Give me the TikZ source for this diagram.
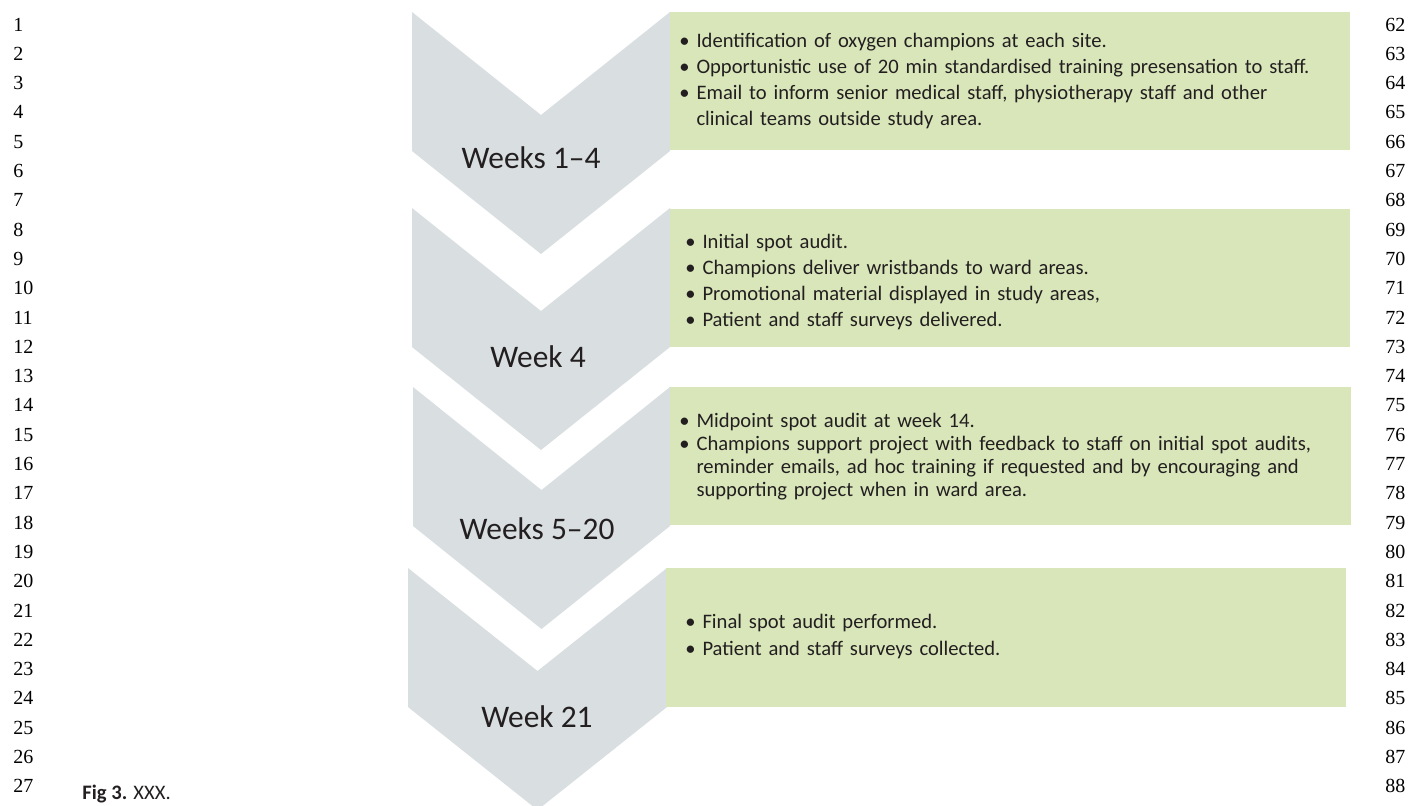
\documentclass[tikz,border=0pt]{standalone}
\usepackage{fontspec}
\setmainfont{Carlito}
\newfontfamily\numfont{Liberation Serif}

\definecolor{chevgray}{RGB}{217,222,224}
\definecolor{boxgreen}{RGB}{216,230,185}
\definecolor{txtgray}{RGB}{35,31,32}

\tikzset{
  chevron/.style={fill=chevgray},
  stepbox/.style={fill=boxgreen},
  weeklabel/.style={font=\fontsize{15.7}{18}\selectfont, text=txtgray, anchor=base, inner sep=0pt},
  bullets/.style={text=txtgray, text width=340pt, align=left, anchor=base west, inner sep=0pt},
  lineno/.style={font=\numfont\fontsize{10}{12}\selectfont, anchor=base west, inner sep=0pt}
}

\newcommand{\cont}{\hphantom{• }}

\begin{document}
\begin{tikzpicture}[x=0.5pt, y=-0.5pt]
        \useasboundingbox (0,0) rectangle (1424,805);

        % chevrons
        \foreach \t/\xl/\xr in {12/412/670, 208/412/670, 387/413/670, 568/408/667}
          \fill[chevron] (\xl,\t) -- ({(\xl+\xr)/2},{\t+103}) -- (\xr,\t) -- (\xr,{\t+139})
            -- ({(\xl+\xr)/2},{\t+242}) -- (\xl,{\t+139}) -- cycle;

        % green boxes
        \fill[stepbox] (670,12) rectangle (1350,150);
        \fill[stepbox] (670,209) rectangle (1350,347);
        \fill[stepbox] (670,387) rectangle (1351,525);
        \fill[stepbox] (666,568) rectangle (1346,707);

        \node[weeklabel] (wk1) at (531,168) {Weeks 1–4};
        \node[weeklabel] (wk2) at (538,367) {Week 4};
        \node[weeklabel] (wk3) at (537,539) {Weeks 5–20};
        \node[weeklabel] (wk4) at (537,727) {Week 21};

        \node[bullets, font=\fontsize{10.3}{13}\selectfont] (txt1) at (679,47) {%
          • Identification of oxygen champions at each site.\\
          • Opportunistic use of 20 min standardised training presensation to staff.\\
          • Email to inform senior medical staff, physiotherapy staff and other\\
          \cont clinical teams outside study area.};
        \node[bullets, font=\fontsize{10.3}{13}\selectfont] (txt2) at (685,248) {%
          • Initial spot audit.\\
          • Champions deliver wristbands to ward areas.\\
          • Promotional material displayed in study areas,\\
          • Patient and staff surveys delivered.};
        \node[bullets, font=\fontsize{10.3}{11.5}\selectfont] (txt3) at (679,427) {%
          • Midpoint spot audit at week 14.\\
          • Champions support project with feedback to staff on initial spot audits,\\
          \cont reminder emails, ad hoc training if requested and by encouraging and\\
          \cont supporting project when in ward area.};
        \node[bullets, font=\fontsize{10.3}{13.5}\selectfont] (txt4) at (685,628) {%
          • Final spot audit performed.\\
          • Patient and staff surveys collected.};

        % line numbers
        \foreach \n [evaluate=\n as \yb using {31+29.3*(\n-1)}] in {1,...,27} {
          \node[lineno] (lnl\n) at (13,\yb) {\n};
          \pgfmathtruncatemacro{\m}{\n+61}
          \node[lineno] (lnr\n) at (1385,\yb) {\m};
        }

        \node[anchor=base west, inner sep=0pt, font=\fontsize{10.3}{12}\selectfont, text=txtgray] (cap) at (82,799) {\textbf{Fig 3.} XXX.};
    \end{tikzpicture}
\end{document}
